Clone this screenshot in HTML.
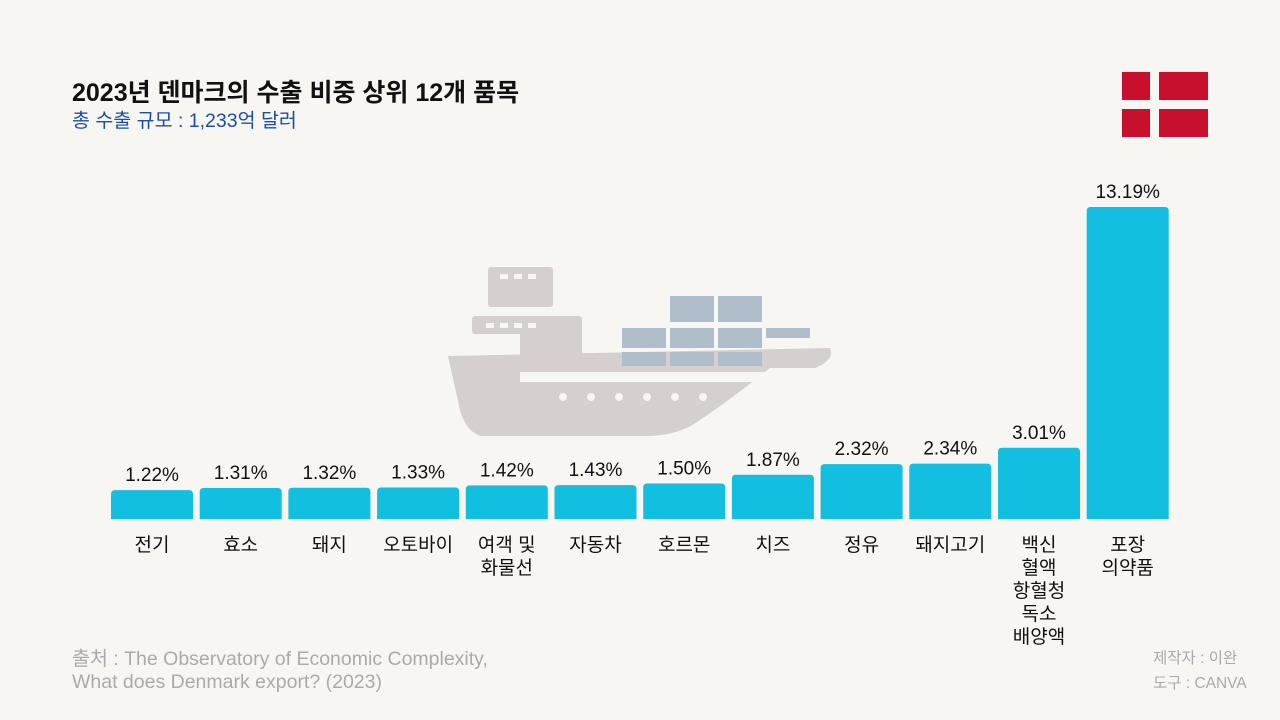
<!DOCTYPE html>
<html><head><meta charset="utf-8">
<style>
body{margin:0;width:1280px;height:720px;background:#f8f6f2;overflow:hidden;font-family:"Liberation Sans","Noto Sans CJK KR",sans-serif;position:relative}
.t{position:absolute;white-space:nowrap}
</style></head><body>
<div class="t" style="left:72px;top:73px;font-size:25px;font-weight:bold;color:#111">2023년 덴마크의 수출 비중 상위 12개 품목</div>
<div class="t" style="left:72px;top:104px;font-size:19.5px;color:#1a4fa8">총 수출 규모 : 1,233억 달러</div>
<svg style="position:absolute;left:1122px;top:72px" width="86" height="65">
<rect width="86" height="65" fill="#c8102e"/><rect x="28" width="9" height="65" fill="#f8f6f2"/><rect y="28" width="86" height="9" fill="#f8f6f2"/></svg>
<svg style="position:absolute;left:0;top:0" width="1280" height="720">
<g fill="#d5d0cf">
<rect x="488" y="267" width="65" height="40" rx="3"/>
<rect x="472" y="316" width="110" height="18" rx="3"/>
<rect x="520" y="330" width="62" height="40"/>
<path d="M448 356 L830 348 Q835 360 815 368 L770 368 Q730 400 700 420 Q680 435 650 436 L480 436 Q465 430 460 410 Z"/>
</g>
<g fill="#f8f6f2"><rect x="500" y="274" width="8" height="5"/><rect x="514" y="274" width="8" height="5"/><rect x="528" y="274" width="8" height="5"/>
<rect x="486" y="323" width="8" height="5"/><rect x="500" y="323" width="8" height="5"/><rect x="514" y="323" width="8" height="5"/><rect x="528" y="323" width="8" height="5"/>
<rect x="520" y="372" width="250" height="10"/>
<circle cx="563" cy="397" r="4"/><circle cx="591" cy="397" r="4"/><circle cx="619" cy="397" r="4"/><circle cx="647" cy="397" r="4"/><circle cx="675" cy="397" r="4"/><circle cx="703" cy="397" r="4"/></g>
<g fill="#b0bdca"><rect x="670" y="296" width="44" height="26"/><rect x="718" y="296" width="44" height="26"/>
<rect x="622" y="328" width="44" height="20"/><rect x="670" y="328" width="44" height="20"/><rect x="718" y="328" width="44" height="20"/><rect x="766" y="328" width="44" height="10"/>
<rect x="622" y="352" width="44" height="14"/><rect x="670" y="352" width="44" height="14"/><rect x="718" y="352" width="44" height="14"/></g>
</svg>
<svg id="chart" style="position:absolute;left:0;top:0" width="1280" height="720"></svg>
<div class="t" style="left:72px;top:648px;font-size:19.5px;line-height:23px;color:#aaa">출처 : The Observatory of Economic Complexity,<br>What does Denmark export? (2023)</div>
<div class="t" style="left:1153px;top:646px;font-size:15.5px;line-height:25px;color:#aaa">제작자 : 이완<br>도구 : CANVA</div>
<script>
const categories=[["전기"],["효소"],["돼지"],["오토바이"],["여객 및","화물선"],["자동차"],["호르몬"],["치즈"],["정유"],["돼지고기"],["백신","혈액","항혈청","독소","배양액"],["포장","의약품"]];
const values=[1.22,1.31,1.32,1.33,1.42,1.43,1.50,1.87,2.32,2.34,3.01,13.19];
const labels=["1.22%","1.31%","1.32%","1.33%","1.42%","1.43%","1.50%","1.87%","2.32%","2.34%","3.01%","13.19%"];
const svg=document.getElementById('chart');const NS="http://www.w3.org/2000/svg";
const base=519,scale=312/13.19,x0=111,pitch=88.7,bw=82;
const yS=v=>base-v*scale, xS=i=>x0+i*pitch;
values.forEach((v,i)=>{
 const x=xS(i),y=yS(v);
 const p=document.createElementNS(NS,'path');
 p.setAttribute('d',`M${x} ${base}V${y+4}Q${x} ${y} ${x+4} ${y}H${x+bw-4}Q${x+bw} ${y} ${x+bw} ${y+4}V${base}Z`);
 p.setAttribute('fill','#12bfe0');
 
 
 svg.appendChild(p);
 const t=document.createElementNS(NS,'text');
 t.setAttribute('x',x+bw/2);t.setAttribute('y',y-9);t.setAttribute('text-anchor','middle');t.setAttribute('font-size','19');t.setAttribute('fill','#111');
 t.textContent=labels[i];
 
 
 svg.appendChild(t);
 categories[i].forEach((c,j)=>{
  const l=document.createElementNS(NS,'text');
  l.setAttribute('x',x+bw/2);l.setAttribute('y',551+j*23);l.setAttribute('text-anchor','middle');l.setAttribute('font-size','19');l.setAttribute('fill','#111');
  l.textContent=c;
  
  
  svg.appendChild(l);
 });
});
</script>
</body></html>
